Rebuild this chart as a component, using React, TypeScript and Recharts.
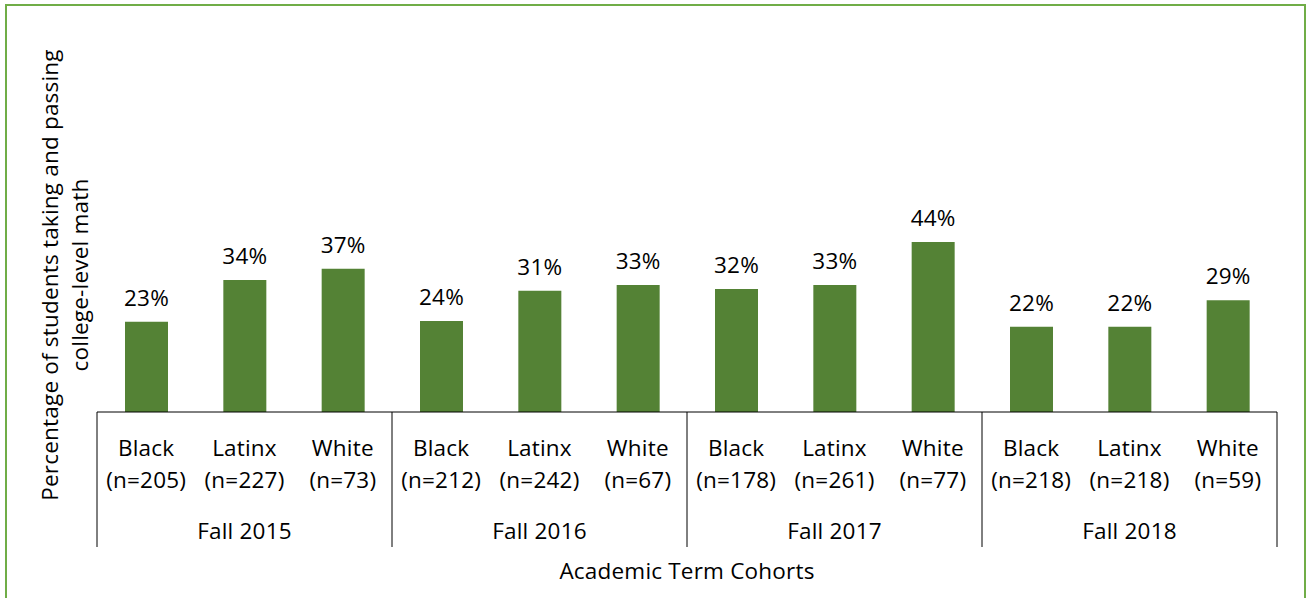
import React from 'react';
import { BarChart, Bar, XAxis, YAxis, LabelList } from 'recharts';

// categories and values
const terms = ['Fall 2015', 'Fall 2016', 'Fall 2017', 'Fall 2018'];
const races = ['Black', 'Latinx', 'White'];
const counts = [205, 227, 73, 212, 242, 67, 178, 261, 77, 218, 218, 59];
const passRates = [0.233, 0.341, 0.37, 0.235, 0.313, 0.328, 0.318, 0.328, 0.439, 0.22, 0.22, 0.289];

const W = 1307;
const H = 598;
const MARGIN = { top: 218.5, right: 30, bottom: 0, left: 0 };
const Y_AXIS_W = 97;
const X_AXIS_H = 186;
const FONT = '"Open Sans", "Noto Sans", sans-serif';
const FS = 22.5;
const LS = 0.2;
const BAR_COLOR = '#548235';

const data = counts.map((n, i) => ({
  key: `c${i}`,
  race: races[i % races.length],
  n,
  term: terms[Math.floor(i / races.length)],
  value: passRates[i],
}));

const plotWidth = W - MARGIN.left - MARGIN.right - Y_AXIS_W;
const band = plotWidth / data.length;

const textProps = {
  textAnchor: 'middle' as const,
  dominantBaseline: 'central' as const,
  fontSize: FS,
  letterSpacing: LS,
  fill: '#000',
  fontFamily: FONT,
};

const CategoryTick = (props: any) => {
  const { x, y, index } = props;
  const d = data[index];
  const half = band / 2;
  return (
    <g>
      <text x={x} y={y + 35} {...textProps}>{d.race}</text>
      <text x={x} y={y + 67} {...textProps}>{`(n=${d.n})`}</text>
      {index % 3 === 1 && <text x={x} y={y + 118} {...textProps}>{d.term}</text>}
      {index % 3 === 0 && <line x1={x - half} x2={x - half} y1={y} y2={y + 135} stroke="#000" strokeWidth={1} />}
      {index === data.length - 1 && <line x1={x + half} x2={x + half} y1={y} y2={y + 135} stroke="#000" strokeWidth={1} />}
    </g>
  );
};

const YTitle = () => (
  <g>
    <text x={49} y={275} {...textProps} transform="rotate(-90, 49, 275)">
      Percentage of students taking and passing
    </text>
    <text x={79} y={275} {...textProps} transform="rotate(-90, 79, 275)">
      college-level math
    </text>
  </g>
);

export default function App() {
  return (
    <div style={{ position: 'fixed', left: 0, top: 0, width: W, height: H, overflow: 'hidden', background: '#fff' }}>
      <div
        style={{
          position: 'absolute',
          left: 5,
          top: 4,
          width: 1301,
          height: 640,
          boxSizing: 'border-box',
          border: '2px solid #70AD47',
        }}
      />
      <div style={{ position: 'absolute', left: 0, top: 0 }}>
        <BarChart width={W} height={H} data={data} margin={MARGIN} barSize={43}>
          <YAxis
            width={Y_AXIS_W}
            domain={[0, 0.5]}
            tick={false}
            axisLine={false}
            tickLine={false}
            label={{ content: () => <YTitle /> }}
          />
          <XAxis
            dataKey="key"
            height={X_AXIS_H}
            interval={0}
            tickLine={false}
            tickSize={0}
            tickMargin={0}
            axisLine={{ stroke: '#000', strokeWidth: 1 }}
            tick={<CategoryTick />}
            label={{
              value: 'Academic Term Cohorts',
              position: 'insideBottom',
              offset: 19,
              style: { fontSize: FS, letterSpacing: LS, fill: '#000', fontFamily: FONT },
            }}
          />
          <Bar dataKey="value" fill={BAR_COLOR} isAnimationActive={false}>
            <LabelList
              dataKey="value"
              position="top"
              offset={16}
              formatter={(v: any) => `${Math.round(Number(v) * 100)}%`}
              style={{ fontSize: FS, letterSpacing: LS, fill: '#000', fontFamily: FONT }}
            />
          </Bar>
        </BarChart>
      </div>
    </div>
  );
}
